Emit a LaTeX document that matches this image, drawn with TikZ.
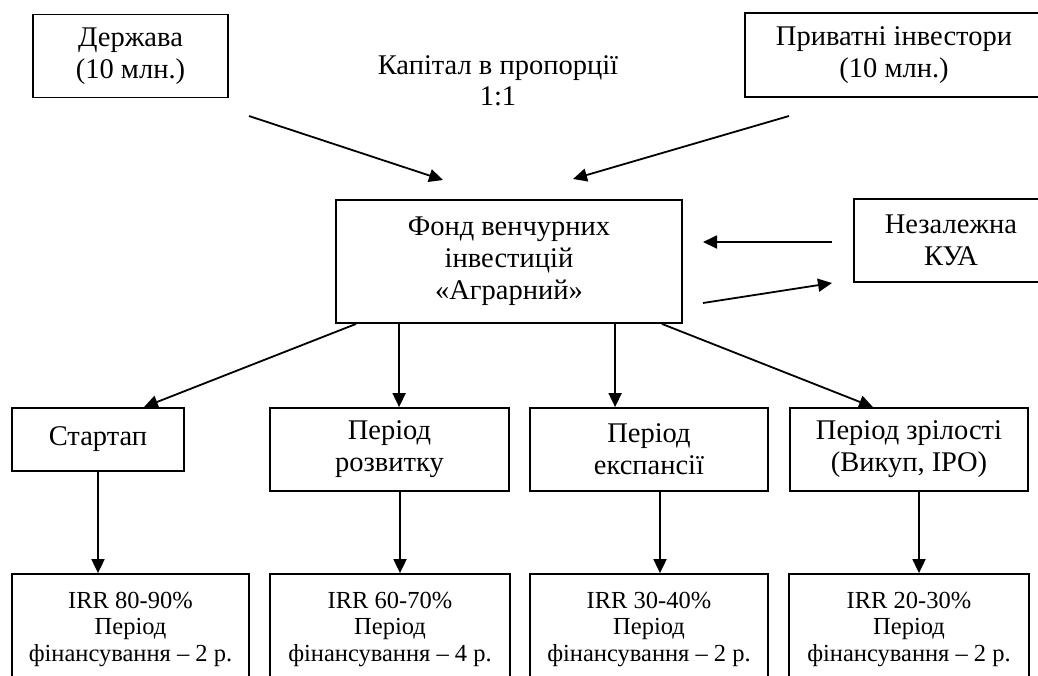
\documentclass[tikz,border=0pt]{standalone}
\usepackage{fontspec}
\setmainfont{Liberation Serif}
\usetikzlibrary{arrows.meta,calc}
\begin{document}
\begin{tikzpicture}[x=1pt,y=-1pt,
  box/.style={draw,line width=1.8pt,inner sep=0pt,align=center,
    font=\fontsize{28.5}{32}\selectfont},
  smallbox/.style={draw,line width=1.8pt,inner sep=0pt,align=center,
    font=\fontsize{24.5}{26.5}\selectfont},
  plain/.style={inner sep=0pt,align=center,font=\fontsize{28.5}{31.5}\selectfont},
  arr/.style={line width=1.8pt,-{Triangle[length=14pt,width=13pt]}}]
\useasboundingbox (0,0) rectangle (1038,675);
\clip (0,0) rectangle (1038,675);
% top row
\node[box,minimum width=195pt,minimum height=83pt] (derzh) at (130.5,56) {Держава\\(10 млн.)};
\node[box,minimum width=298pt,minimum height=84pt] (pryv) at (894,55) {Приватні інвестори\\(10 млн.)};
\node[plain] (kap) at (498,81) {Капітал в пропорції\\1:1};
% fund and KUA
\node[box,minimum width=346pt,minimum height=123pt] (fund) at (509,261.5) {Фонд венчурних\\інвестицій\\«Аграрний»};
\node[box,minimum width=194pt,minimum height=83pt] (kua) at (951,240.5) {Незалежна\\КУА};
% stages
\node[box,minimum width=172pt,minimum height=63pt] (start) at (98,439.5) {Стартап};
\node[box,minimum width=239pt,minimum height=83pt] (rozv) at (389.5,449.5) {Період\\розвитку};
\node[box,minimum width=238pt,minimum height=83pt] (eksp) at (649,449.5) {Період\\експансії};
\node[box,minimum width=238pt,minimum height=83pt] (zril) at (909,449.5) {Період зрілості\\(Викуп, IPO)};
% bottom boxes
\node[smallbox,minimum width=237pt,minimum height=110pt] (b1) at (130.5,629) {IRR 80-90\%\\Період\\фінансування – 2 р.};
\node[smallbox,minimum width=240pt,minimum height=110pt] (b2) at (390,629) {IRR 60-70\%\\Період\\фінансування – 4 р.};
\node[smallbox,minimum width=238pt,minimum height=110pt] (b3) at (649,629) {IRR 30-40\%\\Період\\фінансування – 2 р.};
\node[smallbox,minimum width=240pt,minimum height=110pt] (b4) at (909,629) {IRR 20-30\%\\Період\\фінансування – 2 р.};
% free-end coordinates for the capital arrows
\coordinate (c1s) at (249,116);
\coordinate (c1e) at (443,180);
\coordinate (c2s) at (789,116);
\coordinate (c2e) at (573,179);
\coordinate (k1s) at (832,242);
\coordinate (k1e) at (703,242);
\coordinate (k2s) at (703,303);
\coordinate (k2e) at (832,283);
\draw[arr] (c1s) -- (c1e);
\draw[arr] (c2s) -- (c2e);
\draw[arr] (k1s) -- (k1e);
\draw[arr] (k2s) -- (k2e);
% fund to stages
\draw[arr] ([xshift=21pt]fund.south west) -- ([xshift=-41pt]start.north east);
\draw[arr] ([xshift=64pt]fund.south west) -- ([xshift=64pt]fund.south west |- rozv.north);
\draw[arr] ([xshift=280pt]fund.south west) -- ([xshift=280pt]fund.south west |- eksp.north);
\draw[arr] ([xshift=-21pt]fund.south east) -- ([xshift=-36pt]zril.north);
% stages to results
\draw[arr] (start.south) -- (start.south |- b1.north);
\draw[arr] ([xshift=10.5pt]rozv.south) -- ([xshift=10.5pt]rozv.south |- b2.north);
\draw[arr] ([xshift=11pt]eksp.south) -- ([xshift=11pt]eksp.south |- b3.north);
\draw[arr] ([xshift=10pt]zril.south) -- ([xshift=10pt]zril.south |- b4.north);
\end{tikzpicture}
\end{document}
